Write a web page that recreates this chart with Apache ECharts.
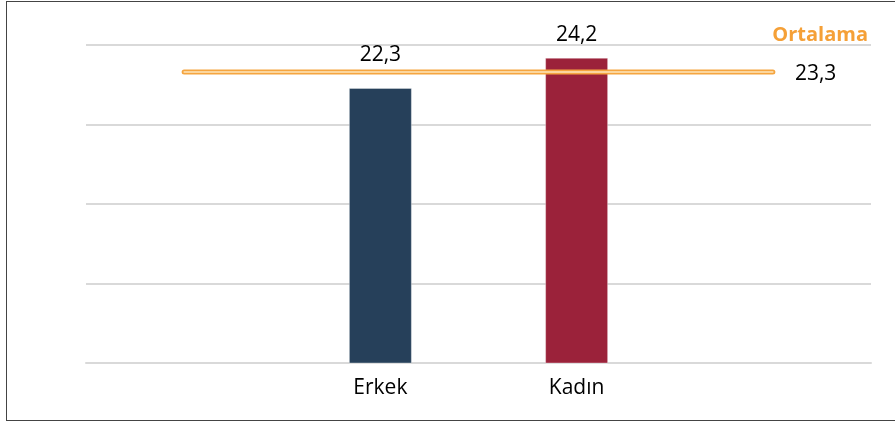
<!DOCTYPE html>
<html>
<head>
<meta charset="utf-8">
<script src="https://cdn.jsdelivr.net/npm/echarts@6/dist/echarts.min.js"></script>
<style>
	html, body { margin: 0; padding: 0; background: #fff; }
	#wrap { position: relative; width: 895px; height: 421px; }
	#chart { position: absolute; left: 0; top: 0; width: 895px; height: 421px; }
	#frame { position: absolute; left: 6px; top: 1px; width: 889px; height: 418px; border-left: 1.5px solid #444; border-top: 1.5px solid #444; border-bottom: 1.5px solid #444; pointer-events: none; }
</style>
</head>
<body>
<div id="wrap">
	<div id="chart"></div>
	<div id="frame"></div>
</div>
<script>
// kategoriler (ilk ve son boş: ortalama çizgisi için)
var categories = ['', 'Erkek', 'Kadın', ''];
var barValues = ['-', 22.3, 24.2, '-'];
var barColors = ['#26405a', '#26405a', '#9b223a', '#9b223a'];
var labelGaps = [0, 22, 12, 0];
var averageValue = 23.3;
var averageLine = [23.3, 23.3, 23.3, 23.3];

function fmtComma(v) {
	return String(v).replace('.', ',');
}

var barData = [];
for (var i = 0; i < barValues.length; i++) {
	barData.push({
		value: barValues[i],
		itemStyle: { color: barColors[i] },
		label: { distance: labelGaps[i] }
	});
}

var chart = echarts.init(document.getElementById('chart'));
var option = {
	animation: false,
	backgroundColor: '#fff',
	grid: { left: 86, right: 24, top: 45, bottom: 58 },
	graphic: [{
		type: 'text',
		right: 27,
		top: 25,
		style: {
			text: 'Ortalama',
			fill: '#f5a037',
			font: 'bold 20px "Open Sans"'
		}
	}],
	xAxis: {
		type: 'category',
		data: categories,
		axisLine: { lineStyle: { color: '#d9d9d9', width: 2 } },
		axisTick: { show: false },
		axisLabel: {
			color: '#000',
			fontSize: 21,
			fontFamily: 'Open Sans',
			margin: 15
		}
	},
	yAxis: {
		type: 'value',
		min: 5,
		max: 25,
		interval: 5,
		axisLabel: { show: false },
		axisLine: { show: false },
		axisTick: { show: false },
		splitLine: { lineStyle: { color: '#d9d9d9', width: 2 } }
	},
	series: [
		{
			type: 'bar',
			data: barData,
			barWidth: 63,
			z: 2,
			itemStyle: { borderColor: 'rgba(255,255,255,0.35)', borderWidth: 1 },
			label: {
				show: true,
				position: 'top',
				color: '#000',
				fontSize: 21,
				fontFamily: 'Open Sans',
				formatter: function (p) { return fmtComma(p.value); }
			}
		},
		{
			type: 'line',
			data: averageLine,
			symbol: 'none',
			z: 5,
			lineStyle: { color: '#f5a540', width: 5, cap: 'round' },
			endLabel: {
				show: true,
				distance: 22,
				offset: [0, 2],
				color: '#000',
				fontSize: 21,
				fontFamily: 'Open Sans',
				formatter: function () { return fmtComma(averageValue); }
			}
		},
		{
			type: 'line',
			data: averageLine,
			symbol: 'none',
			z: 6,
			lineStyle: { color: '#fde6bd', width: 1.5, cap: 'round' }
		}
	]
};
chart.setOption(option);
</script>
</body>
</html>
